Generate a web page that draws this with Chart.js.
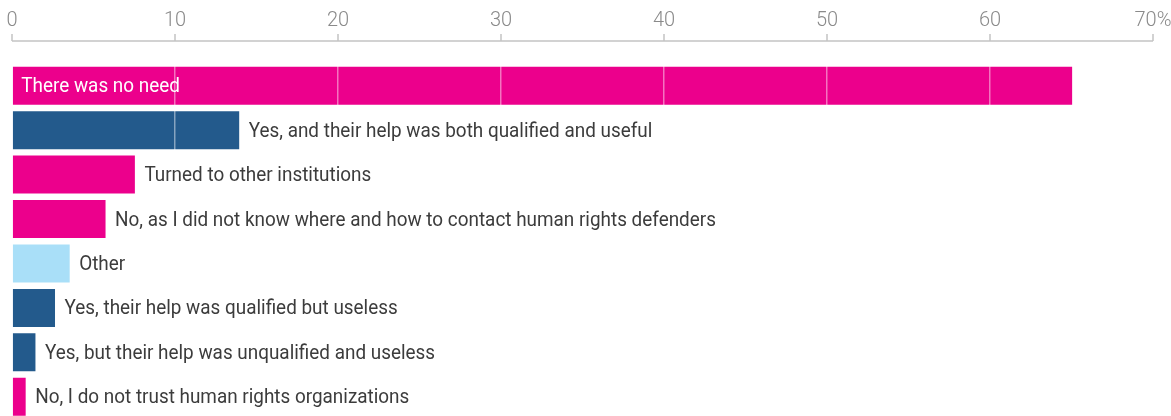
<!DOCTYPE html>
<html>
<head>
<meta charset="utf-8">
<script src="https://cdn.jsdelivr.net/npm/chart.js@4.4.1/dist/chart.umd.min.js"></script>
<style>
  html, body { margin: 0; padding: 0; background: #fff; overflow: hidden; }
  #wrap { position: relative; width: 1171px; height: 420px; }
</style>
</head>
<body>
<div id="wrap"><canvas id="helpChart"></canvas></div>
<script>
// answers, top to bottom
const answers = [
  'There was no need',
  'Yes, and their help was both qualified and useful',
  'Turned to other institutions',
  'No, as I did not know where and how to contact human rights defenders',
  'Other',
  'Yes, their help was qualified but useless',
  'Yes, but their help was unqualified and useless',
  'No, I do not trust human rights organizations'
];
const shares = [65.1, 14.0, 7.6, 5.8, 3.6, 2.7, 1.5, 0.9];
const groups = ['no', 'yes', 'no', 'no', 'other', 'yes', 'yes', 'no'];
const tickValues = [0, 10, 20, 30, 40, 50, 60, 70];

const groupColors = { no: '#ec008c', yes: '#235a8c', other: '#a9dff8' };

// top axis line + small tick marks, a bit above the bars
const topAxis = {
  id: 'topAxis',
  afterDraw(chart) {
    const x = chart.scales.x;
    const ctx = chart.ctx;
    const y = chart.chartArea.top - 22.5;
    ctx.save();
    ctx.strokeStyle = '#c4c4c4';
    ctx.lineWidth = 1.5;
    ctx.beginPath();
    ctx.moveTo(x.getPixelForValue(0), y);
    ctx.lineTo(x.getPixelForValue(70), y);
    tickValues.forEach(v => {
      const px = x.getPixelForValue(v);
      ctx.moveTo(px, y);
      ctx.lineTo(px, y - 7);
    });
    ctx.stroke();
    ctx.restore();
  }
};

function drawAnswer(ctx, bar, i) {
  const inside = i === 0;
  ctx.save();
  ctx.font = '400 21px Roboto, "Noto Sans", sans-serif';
  ctx.textBaseline = 'alphabetic';
  ctx.translate((inside ? bar.base : bar.x) + 8.5, bar.y + 6.5);
  ctx.scale(0.9, 1);
  ctx.fillStyle = inside ? '#ffffff' : '#3c3c3c';
  ctx.fillText(answers[i], 0, 0);
  ctx.restore();
}

// first answer sits inside its bar (under the grid), the rest to the right (over it)
const barText = {
  id: 'barText',
  afterDatasetsDraw(chart) {
    const meta = chart.getDatasetMeta(0);
    drawAnswer(chart.ctx, meta.data[0], 0);
  },
  afterDraw(chart) {
    const meta = chart.getDatasetMeta(0);
    meta.data.forEach((bar, i) => {
      if (i > 0) drawAnswer(chart.ctx, bar, i);
    });
  }
};

new Chart(document.getElementById('helpChart'), {
  type: 'bar',
  data: {
    labels: answers,
    datasets: [{
      data: shares,
      backgroundColor: groups.map(g => groupColors[g]),
      borderColor: 'rgba(255,255,255,0.35)',
      borderWidth: 1,
      barPercentage: 0.9,
      categoryPercentage: 1
    }]
  },
  options: {
    indexAxis: 'y',
    responsive: true,
    maintainAspectRatio: false,
    animation: false,
    layout: { padding: { left: 0, right: 0, top: 0, bottom: 1 } },
    plugins: {
      legend: { display: false },
      tooltip: { enabled: false }
    },
    scales: {
      x: {
        position: 'top',
        min: 0,
        max: 70,
        afterFit(scale) { scale.height = 63.5; scale.paddingLeft = 12; scale.paddingRight = 18; },
        border: { display: false },
        grid: {
          z: 1,
          drawTicks: false,
          lineWidth: 1.5,
          color: ctx => (ctx.index === 0 ? 'rgba(0,0,0,0)' : 'rgba(255,255,255,0.45)')
        },
        ticks: {
          stepSize: 10,
          padding: 31,
          color: '#8a8a8a',
          font: { family: 'Roboto', size: 20, weight: '300' },
          callback: v => (v === 70 ? '70%' : v)
        }
      },
      y: {
        display: false
      }
    }
  },
  plugins: [topAxis, barText]
});
</script>
</body>
</html>
